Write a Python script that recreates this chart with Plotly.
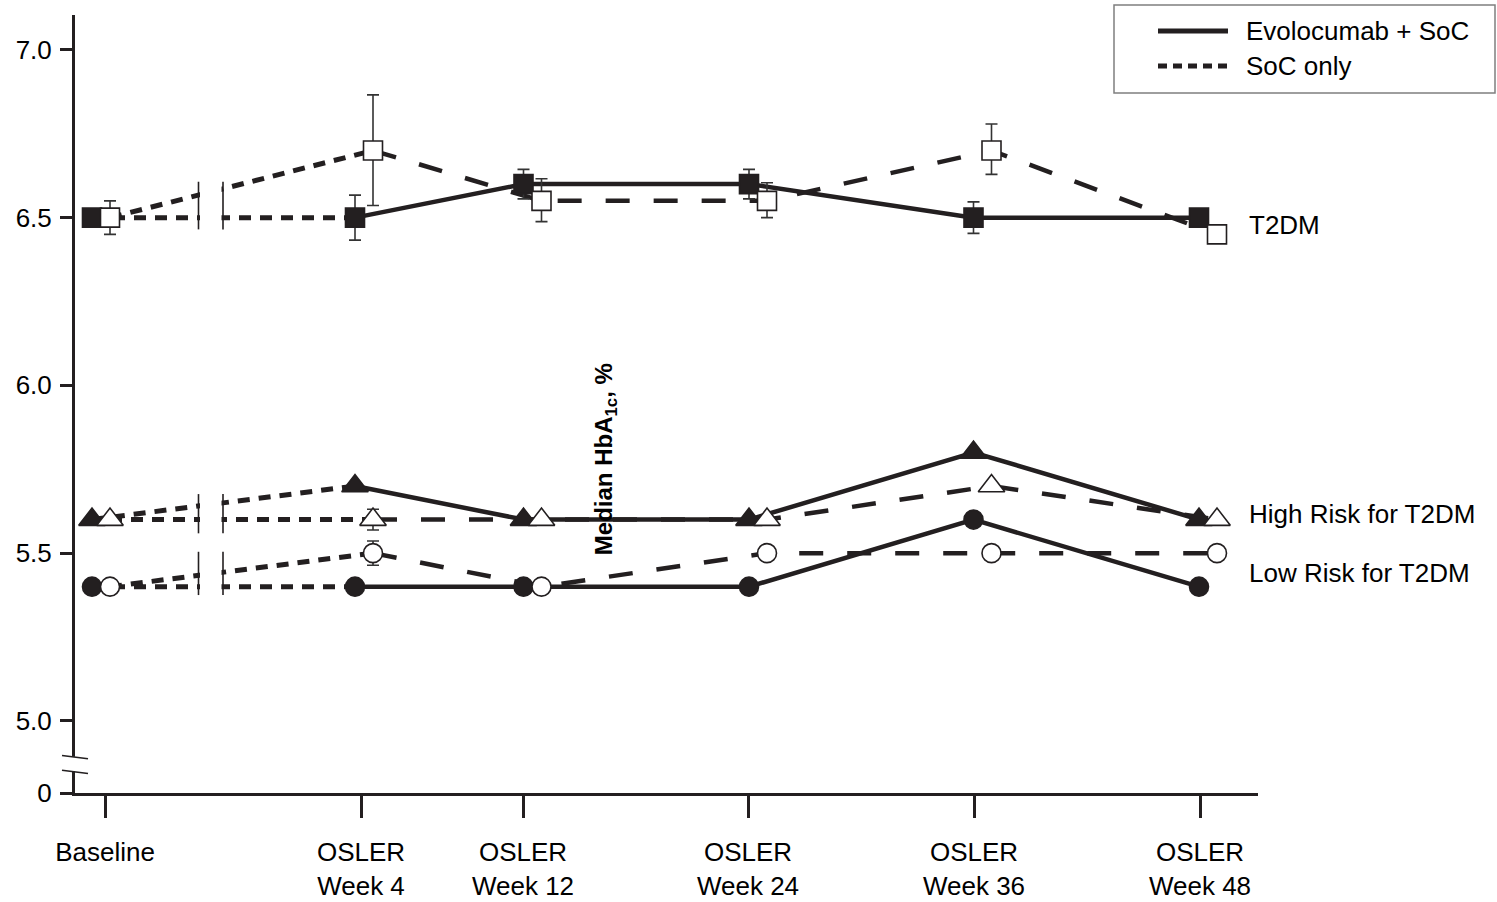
import plotly.graph_objects as go

# ---- data -------------------------------------------------------------
visits = ["Baseline", "OSLER<br>Week 4", "OSLER<br>Week 12",
          "OSLER<br>Week 24", "OSLER<br>Week 36", "OSLER<br>Week 48"]

# median HbA1c, % (filled = evolocumab + SoC, open = SoC only)
t2dm_evo = [6.5, 6.5, 6.6, 6.6, 6.5, 6.5]
t2dm_soc = [6.5, 6.7, 6.55, 6.55, 6.7, 6.45]
high_evo = [5.6, 5.7, 5.6, 5.6, 5.8, 5.6]
high_soc = [5.6, 5.6, 5.6, 5.6, 5.7, 5.6]
low_evo = [5.4, 5.4, 5.4, 5.4, 5.6, 5.4]
low_soc = [5.4, 5.5, 5.4, 5.5, 5.5, 5.5]

# error bar half-lengths
t2dm_evo_err = [0.0, 0.067, 0.044, 0.044, 0.047, 0.0]
t2dm_soc_err_plus = [0.05, 0.166, 0.066, 0.054, 0.079, 0.0]
t2dm_soc_err_minus = [0.05, 0.164, 0.062, 0.05, 0.071, 0.0]
high_soc_err = [0.0, 0.031, 0.0, 0.0, 0.0, 0.0]
low_soc_err = [0.0, 0.036, 0.0, 0.0, 0.0, 0.0]

y_tick_vals = [4.785, 5.0, 5.5, 6.0, 6.5, 7.0]
y_tick_text = ["0", "5.0", "5.5", "6.0", "6.5", "7.0"]

# ---- layout constants -------------------------------------------------
INK = "#231f20"
FONT = "Liberation Sans"
X_RANGE = [0, 11.83]
Y_RANGE = [4.785, 7.104]
tick_x = [0.30, 2.86, 4.48, 6.73, 8.99, 11.25]      # axis tick positions
evo_x = [0.17, 2.80, 4.485, 6.74, 8.985, 11.24]      # filled marker positions
SOC_SHIFT = 0.18                                      # open markers sit to the right
soc_x = [v + SOC_SHIFT for v in evo_x]

DOT = "12px,9px"
LONGDASH = "24px,24px"

fig = go.Figure()


def add_arm(xs, ys, after_dash):
    # parent-study segment (baseline -> OSLER week 4), always dotted
    fig.add_trace(go.Scatter(x=xs[:2], y=ys[:2], mode="lines",
                             line=dict(color=INK, width=5, dash=DOT),
                             hoverinfo="skip"))
    # OSLER follow-up
    fig.add_trace(go.Scatter(x=xs[1:], y=ys[1:], mode="lines",
                             line=dict(color=INK, width=4.5, dash=after_dash),
                             hoverinfo="skip"))


def add_markers(xs, ys, symbol, filled, err_plus=None, err_minus=None, size=19):
    err = None
    if err_plus is not None:
        err = dict(type="data", array=err_plus,
                   arrayminus=err_minus if err_minus is not None else err_plus,
                   symmetric=err_minus is None, color="#333333",
                   thickness=1.6, width=6)
    fig.add_trace(go.Scatter(
        x=xs, y=ys, mode="markers", error_y=err,
        marker=dict(symbol=symbol, size=size,
                    color=INK if filled else "white",
                    line=dict(color=INK, width=1.6)),
    ))


add_arm(evo_x, t2dm_evo, "solid")
add_arm(soc_x, t2dm_soc, LONGDASH)
add_arm(evo_x, high_evo, "solid")
add_arm(soc_x, high_soc, LONGDASH)
add_arm(evo_x, low_evo, "solid")
add_arm(soc_x, low_soc, LONGDASH)

add_markers(evo_x, t2dm_evo, "square", True, t2dm_evo_err)
add_markers(soc_x, t2dm_soc, "square", False, t2dm_soc_err_plus, t2dm_soc_err_minus)
add_markers(evo_x, high_evo, "triangle-up", True, size=23)
add_markers(soc_x, high_soc, "triangle-up", False, high_soc_err, size=23)
add_markers(evo_x, low_evo, "circle", True, size=19)
add_markers(soc_x, low_soc, "circle", False, low_soc_err, size=19)

shapes = []

# time-axis break between parent study and OSLER
shapes.append(dict(type="rect", xref="x", yref="y", x0=1.25, x1=1.465,
                   y0=5.3, y1=6.75, fillcolor="white", line=dict(width=0),
                   layer="above"))
for y0, y1 in [(6.465, 6.607), (5.559, 5.676), (5.375, 5.504)]:
    for bx in (1.235, 1.48):
        shapes.append(dict(type="line", xref="x", yref="y", x0=bx, x1=bx,
                           y0=y0, y1=y1, line=dict(color=INK, width=1.6),
                           layer="above"))

# y-axis break near the origin
px = lambda p: (p - 75) / 1183.0
shapes.append(dict(type="rect", xref="paper", yref="y", x0=px(70), x1=px(80),
                   y0=4.850, y1=4.893, fillcolor="white", line=dict(width=0),
                   layer="above"))
for ya, yb in [(4.897, 4.887), (4.853, 4.843)]:
    shapes.append(dict(type="line", xref="paper", yref="y", x0=px(62), x1=px(88),
                       y0=ya, y1=yb, line=dict(color=INK, width=1.6),
                       layer="above"))

# legend box
py = lambda p: (792.7 - p) / 777.7
shapes.append(dict(type="rect", xref="paper", yref="paper",
                   x0=px(1114), x1=px(1495), y0=py(93), y1=py(5),
                   line=dict(color="#7f7f7f", width=1.5), fillcolor="rgba(0,0,0,0)"))
shapes.append(dict(type="line", xref="paper", yref="paper",
                   x0=px(1158), x1=px(1228), y0=py(31), y1=py(31),
                   line=dict(color=INK, width=5)))
shapes.append(dict(type="line", xref="paper", yref="paper",
                   x0=px(1158), x1=px(1228), y0=py(66), y1=py(66),
                   line=dict(color=INK, width=5, dash="9px,6px")))

LABEL = dict(size=26)
annotations = [
    dict(text="Evolocumab + SoC", xref="paper", yref="paper", x=px(1244), y=py(31),
         xanchor="left", yanchor="middle", showarrow=False, font=LABEL),
    dict(text="SoC only", xref="paper", yref="paper", x=px(1244), y=py(66),
         xanchor="left", yanchor="middle", showarrow=False, font=LABEL),
    dict(text="T2DM", xref="paper", yref="y", x=px(1247), y=6.478,
         xanchor="left", yanchor="middle", showarrow=False, font=LABEL),
    dict(text="High Risk for T2DM", xref="paper", yref="y", x=px(1247), y=5.616,
         xanchor="left", yanchor="middle", showarrow=False, font=LABEL),
    dict(text="Low Risk for T2DM", xref="paper", yref="y", x=px(1247), y=5.44,
         xanchor="left", yanchor="middle", showarrow=False, font=LABEL),
    dict(text="<b>Median HbA<sub>1c</sub>, %</b>", xref="paper", yref="paper",
         x=px(605), y=py(459), textangle=-90, showarrow=False,
         xanchor="center", yanchor="middle", font=dict(size=24, color="black")),
]

fig.update_layout(
    width=1497, height=902,
    margin=dict(l=75, r=239, t=15, b=109.3, pad=0),
    paper_bgcolor="white", plot_bgcolor="white",
    showlegend=False,
    font=dict(family=FONT, color="black", size=24),
    shapes=shapes, annotations=annotations,
    xaxis=dict(range=X_RANGE, showgrid=False, zeroline=False, automargin=False,
               showline=True, linecolor=INK, linewidth=3,
               ticks="outside", ticklen=22, tickwidth=3, tickcolor=INK,
               tickvals=tick_x, ticktext=visits, ticklabelstandoff=12,
               tickfont=dict(size=26, family=FONT, color="black")),
    yaxis=dict(range=Y_RANGE, showgrid=False, zeroline=False, automargin=False,
               showline=True, linecolor=INK, linewidth=3,
               ticks="outside", ticklen=12, tickwidth=3, tickcolor=INK,
               tickvals=y_tick_vals, ticktext=y_tick_text,
               ticklabelstandoff=3,
               tickfont=dict(size=26, family=FONT, color="black")),
)

fig.write_html("out.html")
